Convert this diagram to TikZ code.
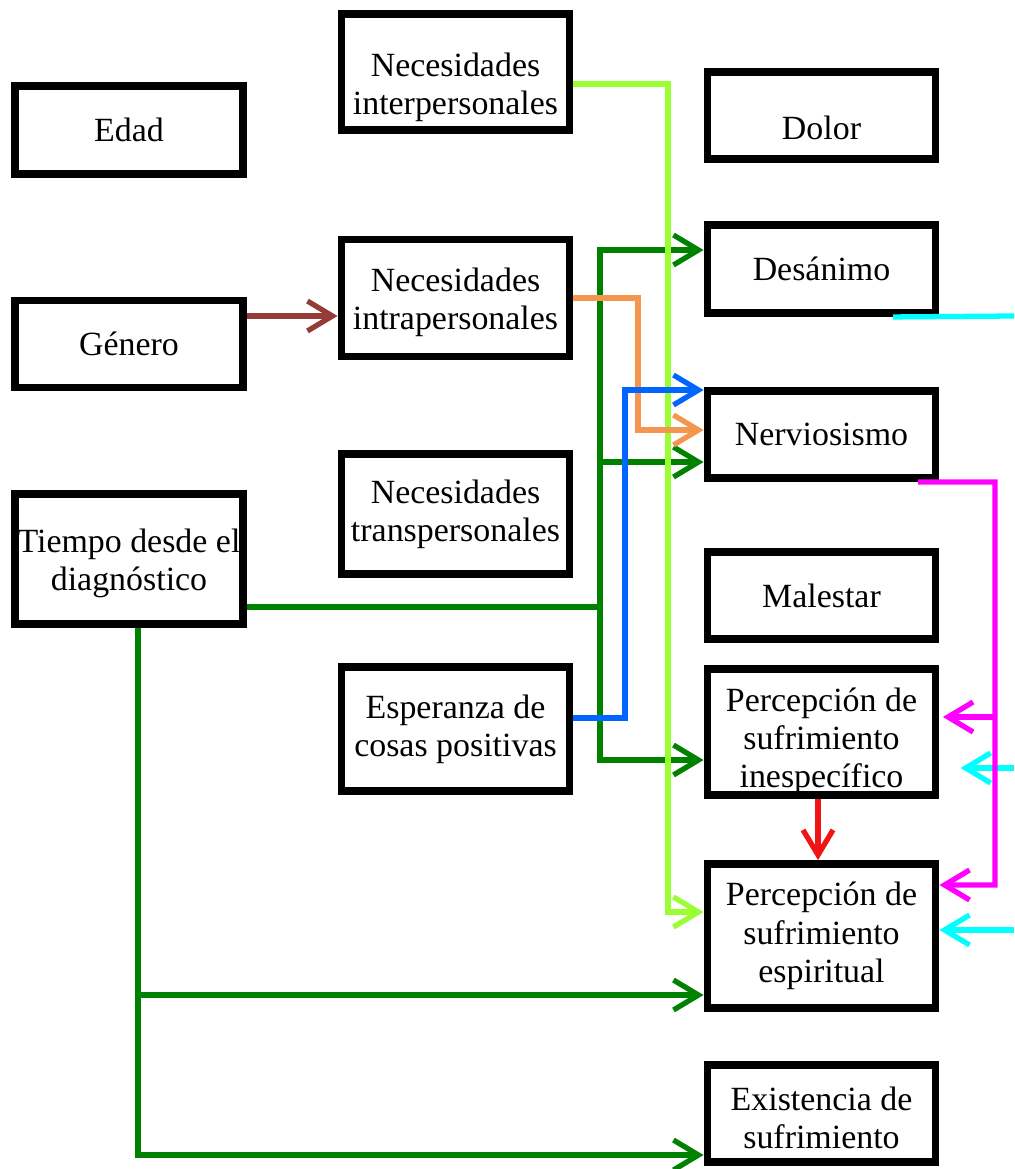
\documentclass[tikz,border=0pt]{standalone}
\usepackage{fontspec}
\setmainfont{Liberation Serif}
\usetikzlibrary{arrows.meta}

\definecolor{brownline}{RGB}{150,60,55}
\definecolor{limeline}{RGB}{153,255,51}
\definecolor{greenline}{RGB}{0,130,0}
\definecolor{orangeline}{RGB}{245,150,80}
\definecolor{blueline}{RGB}{0,102,255}
\definecolor{cyanline}{RGB}{0,255,255}
\definecolor{magentaline}{RGB}{255,0,255}
\definecolor{redline}{RGB}{240,20,20}

\begin{document}
\begin{tikzpicture}[x=0.02cm, y=-0.02cm,
  box/.style={rectangle, draw, line width=4.5pt, text centered, align=center,
    minimum width=4.56cm, inner sep=0pt, font=\fontsize{19.3}{21.8}\selectfont},
  link/.style={line width=3pt, -{Straight Barb[length=5mm, width=6mm]}},
  plain/.style={line width=3pt}]

  \useasboundingbox (0,0) rectangle (1014,1169);

  % Define the left column
  \node (edad) [box, minimum height=1.76cm] at (129,130) {Edad};
  \node (genero) [box, minimum height=1.74cm] at (129,344) {Género};
  \node (tiempo) [box, minimum height=2.6cm] at (129,559) {\rule{0pt}{18pt}Tiempo desde el\\diagnóstico};

  % Define the middle column
  \node (inter) [box, minimum height=2.32cm] at (455.5,72) {\rule{0pt}{31pt}Necesidades\\interpersonales};
  \node (intra) [box, minimum height=2.34cm] at (455.5,298) {\rule{0pt}{18pt}Necesidades\\intrapersonales};
  \node (trans) [box, minimum height=2.4cm] at (455.5,514) {Necesidades\\transpersonales};
  \node (esperanza) [box, minimum height=2.48cm] at (455.5,729) {Esperanza de\\cosas positivas};

  % Define the right column
  \node (dolor) [box, minimum height=1.74cm] at (821.5,115.5) {\rule{0pt}{27pt}Dolor};
  \node (desanimo) [box, minimum height=1.76cm] at (821.5,269) {Desánimo};
  \node (nervios) [box, minimum height=1.74cm] at (821.5,434.5) {Nerviosismo};
  \node (malestar) [box, minimum height=1.74cm] at (821.5,595.5) {Malestar};
  \node (inesp) [box, minimum height=2.44cm] at (821.5,732) {\rule{0pt}{24pt}Percepción de\\sufrimiento\\inespecífico};
  \node (espir) [box, minimum height=2.88cm] at (821.5,936) {Percepción de\\sufrimiento\\espiritual};
  \node (exist) [box, minimum height=1.94cm] at (821.5,1113.5) {\rule{0pt}{18pt}Existencia de\\sufrimiento};

  % Free ends at the right margin
  \coordinate (cyanout) at (1014,316);
  \coordinate (cyanin1) at (1014,768);
  \coordinate (cyanin2) at (1014,930);

  % Arrows from the left column
  \draw[link, brownline] (genero.east |- 0,316) -- (intra.west |- 0,316);
  \draw[plain, greenline] (tiempo.east |- 0,607) -- (600,607);
  \draw[link, greenline] (600,607) |- (desanimo.west |- 0,250);
  \draw[link, greenline] (600,607) |- (nervios.west |- 0,462);
  \draw[link, greenline] (600,607) |- (inesp.west |- 0,760);
  \draw[link, greenline] (tiempo.south -| 138,0) |- (espir.west |- 0,995);
  \draw[link, greenline] (tiempo.south -| 138,0) |- (exist.west |- 0,1155);

  % Arrows from the middle column
  \draw[link, limeline] (inter.east |- 0,84) -- (668,84) -- (668,912) -- (espir.west |- 0,912);
  \draw[link, orangeline] (intra.east |- 0,298) -- (638,298) -- (638,430) -- (nervios.west |- 0,430);
  \draw[link, blueline] (esperanza.east |- 0,718) -- (625,718) -- (625,390) -- (nervios.west |- 0,390);

  % Arrows inside the right column
  \draw[plain, cyanline] (desanimo.south -| 893,0) -- (cyanout);
  \draw[link, cyanline, shorten >=12\pgflinewidth/3] (cyanin1) -- (inesp.east |- 0,768);
  \draw[link, cyanline] (cyanin2) -- (espir.east |- 0,930);
  \draw[link, magentaline] (nervios.south -| 918,0) -- (995,482) -- (995,885) -- (espir.east |- 0,885);
  \draw[link, magentaline, shorten >=2pt] (995,717) -- (inesp.east |- 0,717);
  \draw[link, redline] (inesp.south -| 818,0) -- (espir.north -| 818,0);

\end{tikzpicture}
\end{document}
